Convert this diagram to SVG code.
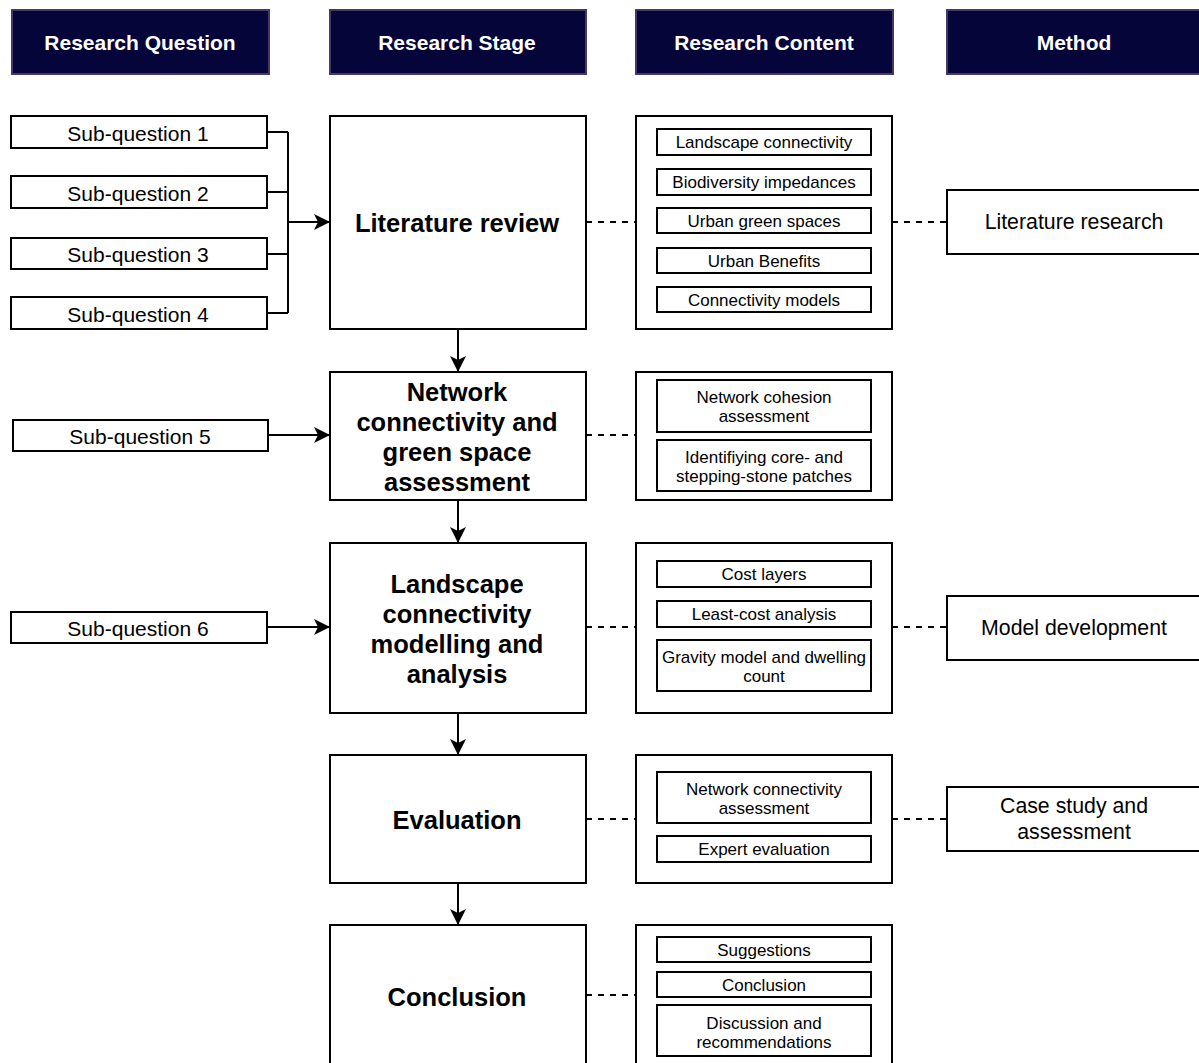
<svg xmlns="http://www.w3.org/2000/svg" width="1199" height="1063" viewBox="0 0 1199 1063">
<defs>
<marker id="arr" viewBox="0 0 16 16" refX="15" refY="8" markerWidth="16" markerHeight="16" markerUnits="userSpaceOnUse" orient="auto">
<path d="M0,0 L16,8 L0,16 L4,8 Z" fill="#000"/>
</marker>
</defs>
<style>
text{font-family:"Liberation Sans",Arial,sans-serif;text-anchor:middle;dominant-baseline:central;fill:#000}
.hdr rect{fill:#05053a;stroke:#45386a;stroke-width:2}
.hdr text{fill:#fff;font-weight:bold;font-size:21px}
.box{fill:#fff;stroke:#000;stroke-width:2}
.sq{font-size:21px}
.st{font-weight:bold;font-size:25.5px}
.in{font-size:17px}
.md{font-size:21.3px}
.ln{fill:none;stroke:#000;stroke-width:2}
.dash{fill:none;stroke:#000;stroke-width:2;stroke-dasharray:6,6}
</style>
<rect width="1199" height="1063" fill="#fff"/>
<g id="headers">
<g id="h-question" class="hdr"><rect x="12" y="10" width="257" height="64"/><text x="140" y="42">Research Question</text></g>
<g id="h-stage" class="hdr"><rect x="330" y="10" width="256" height="64"/><text x="457" y="42">Research Stage</text></g>
<g id="h-content" class="hdr"><rect x="636" y="10" width="257" height="64"/><text x="764" y="42">Research Content</text></g>
<g id="h-method" class="hdr"><rect x="947" y="10" width="260" height="64"/><text x="1074" y="42">Method</text></g>
</g>
<g id="connectors">
<path class="ln" d="M267,132 H288 M267,192 H288 M267,254 H288 M267,313 H288 M288,132 V313"/>
<path class="ln" d="M288,222 H329" marker-end="url(#arr)"/>
<path class="ln" d="M268,435 H329" marker-end="url(#arr)"/>
<path class="ln" d="M267,627 H329" marker-end="url(#arr)"/>
<path class="ln" d="M458,329 V371" marker-end="url(#arr)"/>
<path class="ln" d="M458,500 V542" marker-end="url(#arr)"/>
<path class="ln" d="M458,713 V754" marker-end="url(#arr)"/>
<path class="ln" d="M458,883 V924" marker-end="url(#arr)"/>
<path class="dash" d="M586,222 H636 M892,222 H947"/>
<path class="dash" d="M586,435 H636"/>
<path class="dash" d="M586,627 H636 M892,627 H947"/>
<path class="dash" d="M586,819 H636 M892,819 H947"/>
<path class="dash" d="M586,995 H636"/>
</g>
<g id="sq1"><rect class="box" x="11" y="116" width="256" height="32"/><text class="sq" x="138" y="133">Sub-question 1</text></g>
<g id="sq2"><rect class="box" x="11" y="176" width="256" height="32"/><text class="sq" x="138" y="193">Sub-question 2</text></g>
<g id="sq3"><rect class="box" x="11" y="238" width="256" height="31"/><text class="sq" x="138" y="254">Sub-question 3</text></g>
<g id="sq4"><rect class="box" x="11" y="297" width="256" height="32"/><text class="sq" x="138" y="314">Sub-question 4</text></g>
<g id="sq5"><rect class="box" x="13" y="420" width="255" height="31"/><text class="sq" x="140" y="436">Sub-question 5</text></g>
<g id="sq6"><rect class="box" x="11" y="612" width="256" height="31"/><text class="sq" x="138" y="628">Sub-question 6</text></g>

<g id="stage-lit"><rect class="box" x="330" y="116" width="256" height="213"/><text class="st" x="457" y="223">Literature review</text></g>
<g id="stage-net"><rect class="box" x="330" y="372" width="256" height="128"/><text class="st" x="457" y="392">Network</text><text class="st" x="457" y="422">connectivity and</text><text class="st" x="457" y="452">green space</text><text class="st" x="457" y="482">assessment</text></g>
<g id="stage-land"><rect class="box" x="330" y="543" width="256" height="170"/><text class="st" x="457" y="584">Landscape</text><text class="st" x="457" y="614">connectivity</text><text class="st" x="457" y="644">modelling and</text><text class="st" x="457" y="674">analysis</text></g>
<g id="stage-eval"><rect class="box" x="330" y="755" width="256" height="128"/><text class="st" x="457" y="820">Evaluation</text></g>
<g id="stage-concl"><rect class="box" x="330" y="925" width="256" height="150"/><text class="st" x="457" y="997">Conclusion</text></g>

<g id="content-lit"><rect class="box" x="636" y="116" width="256" height="213"/>
<rect class="box" x="657" y="129" width="214" height="26"/><text class="in" x="764" y="142">Landscape connectivity</text>
<rect class="box" x="657" y="169" width="214" height="26"/><text class="in" x="764" y="182">Biodiversity impedances</text>
<rect class="box" x="657" y="208" width="214" height="25"/><text class="in" x="764" y="221">Urban green spaces</text>
<rect class="box" x="657" y="248" width="214" height="25"/><text class="in" x="764" y="261">Urban Benefits</text>
<rect class="box" x="657" y="287" width="214" height="25"/><text class="in" x="764" y="300">Connectivity models</text>
</g>
<g id="content-net"><rect class="box" x="636" y="372" width="256" height="128"/>
<rect class="box" x="657" y="380" width="214" height="52"/><text class="in" x="764" y="397">Network cohesion</text><text class="in" x="764" y="416">assessment</text>
<rect class="box" x="657" y="440" width="214" height="51"/><text class="in" x="764" y="457">Identifiying core- and</text><text class="in" x="764" y="476">stepping-stone patches</text>
</g>
<g id="content-land"><rect class="box" x="636" y="543" width="256" height="170"/>
<rect class="box" x="657" y="561" width="214" height="26"/><text class="in" x="764" y="574">Cost layers</text>
<rect class="box" x="657" y="601" width="214" height="26"/><text class="in" x="764" y="614">Least-cost analysis</text>
<rect class="box" x="657" y="640" width="214" height="51"/><text class="in" x="764" y="657">Gravity model and dwelling</text><text class="in" x="764" y="676">count</text>
</g>
<g id="content-eval"><rect class="box" x="636" y="755" width="256" height="128"/>
<rect class="box" x="657" y="772" width="214" height="51"/><text class="in" x="764" y="789">Network connectivity</text><text class="in" x="764" y="808">assessment</text>
<rect class="box" x="657" y="836" width="214" height="26"/><text class="in" x="764" y="849">Expert evaluation</text>
</g>
<g id="content-concl"><rect class="box" x="636" y="925" width="256" height="150"/>
<rect class="box" x="657" y="937" width="214" height="25"/><text class="in" x="764" y="950">Suggestions</text>
<rect class="box" x="657" y="972" width="214" height="25"/><text class="in" x="764" y="985">Conclusion</text>
<rect class="box" x="657" y="1005" width="214" height="51"/><text class="in" x="764" y="1023">Discussion and</text><text class="in" x="764" y="1042">recommendations</text>
</g>

<g id="m-lit"><rect class="box" x="947" y="190" width="260" height="64"/><text class="md" x="1074" y="222">Literature research</text></g>
<g id="m-model"><rect class="box" x="947" y="596" width="260" height="64"/><text class="md" x="1074" y="628">Model development</text></g>
<g id="m-case"><rect class="box" x="947" y="787" width="260" height="64"/><text class="md" x="1074" y="806">Case study and</text><text class="md" x="1074" y="832">assessment</text></g>
</svg>
